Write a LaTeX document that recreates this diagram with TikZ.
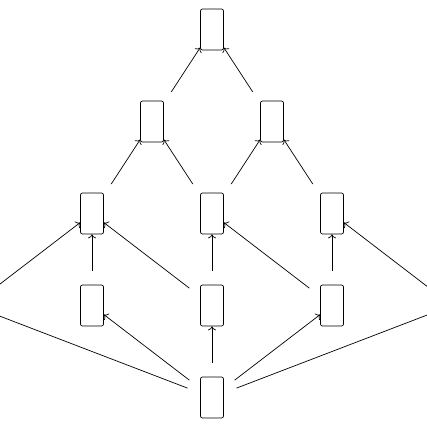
\documentclass[tikz,border=0pt]{standalone}
\usetikzlibrary{positioning,arrows.meta}
\begin{document}
\begin{tikzpicture}[
  box/.style={rectangle, draw, rounded corners=2pt, minimum width=23pt, minimum height=41pt, inner sep=0pt},
  link/.style={-{To[length=4pt, width=8pt]}, shorten <=13.5pt},
  line width=0.7pt,
  on grid,
  node distance=92pt and 60pt
]
\useasboundingbox (0,0) rectangle (427pt,427pt);
\node[box] (bot) at (212pt,29.5pt) {};
\node[box, above=of bot] (m4) {};
\node[box, left=120pt of m4] (l4) {};
\node[box, right=120pt of m4] (r4) {};
\coordinate[left=240pt of m4] (ll4);
\coordinate[right=240pt of m4] (rr4);
\node[box, above=of m4] (m3) {};
\node[box, above=of l4] (l3) {};
\node[box, above=of r4] (r3) {};
\node[box, above left=of m3] (l2) {};
\node[box, above right=of m3] (r2) {};
\node[box, above right=of l2] (top) {};

\draw[link] (bot) -- (ll4);
\draw[link] (bot) -- (l4);
\draw[link] (bot) -- (m4);
\draw[link] (bot) -- (r4);
\draw[link] (bot) -- (rr4);
\draw[link] (ll4) -- (l3);
\draw[link] (l4) -- (l3);
\draw[link] (m4) -- (l3);
\draw[link] (m4) -- (m3);
\draw[link] (r4) -- (m3);
\draw[link] (r4) -- (r3);
\draw[link] (rr4) -- (r3);
\draw[link] (l3) -- (l2);
\draw[link] (m3) -- (l2);
\draw[link] (m3) -- (r2);
\draw[link] (r3) -- (r2);
\draw[link] (l2) -- (top);
\draw[link] (r2) -- (top);
\end{tikzpicture}
\end{document}
